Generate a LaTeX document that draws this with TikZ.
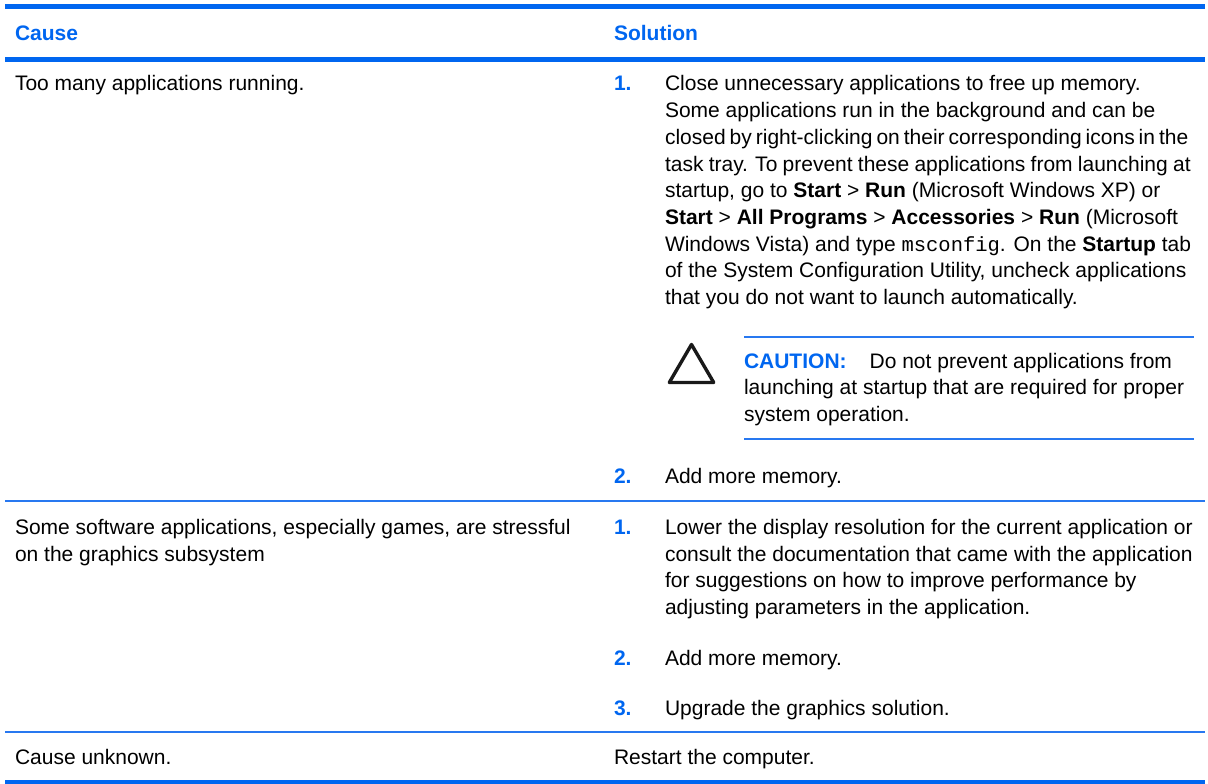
\documentclass[tikz,border=0pt]{standalone}
\usepackage{fontspec}
\setmainfont{Liberation Sans}
\setmonofont{Liberation Mono}
\definecolor{hpblue}{RGB}{0,102,240}
\definecolor{hpthin}{RGB}{40,120,240}
\begin{document}
\begin{tikzpicture}[x=1pt,y=-1pt,
  txt/.style={anchor=base west, inner sep=0pt, outer sep=0pt, font=\fontsize{21}{26.7}\selectfont, text=black},
  num/.style={txt, font=\fontsize{21}{26.7}\selectfont\bfseries, text=hpblue},
  head/.style={txt, font=\fontsize{21}{26.7}\selectfont\bfseries, text=hpblue},
  thickrule/.style={draw=hpblue, line width=4.5pt},
  thinrule/.style={draw=hpthin, line width=1.8pt},
  cautrule/.style={draw=hpthin, line width=1.8pt}]
\useasboundingbox (0,0) rectangle (1208,784);
% rules
\coordinate (tl) at (5,6.5);   \coordinate (tr) at (1205,6.5);
\coordinate (hl) at (5,59.7);  \coordinate (hr) at (1205,59.7);
\coordinate (s1l) at (5,501);  \coordinate (s1r) at (1205,501);
\coordinate (s2l) at (5,731.7);\coordinate (s2r) at (1205,731.7);
\coordinate (bl) at (5,782.2); \coordinate (br) at (1205,782.2);
\draw[thickrule] (tl) -- (tr);
\draw[thickrule] (hl) -- (hr);
\draw[thinrule] (s1l) -- (s1r);
\draw[thinrule] (s2l) -- (s2r);
\draw[thickrule] (bl) -- (br);
% header
\node[head] (hcause) at (15,41) {Cause};
\node[head] (hsol) at (614,41) {Solution};
% row 1
\node[txt] (c1) at (15,91) {Too many applications running.};
\node[num] (n11) at (614,91) {1.};
\node[txt] (r1a) at (665,91) {Close unnecessary applications to free up memory.};
\node[txt] (r1b) at (665,117.7) {Some applications run in the background and can be};
\node[txt] (r1c) at (665,144.4) {\spaceskip=0.19em closed by right-clicking on their corresponding icons in the};
\node[txt] (r1d) at (665,171.1) {\spaceskip=0.25em task tray. To prevent these applications from launching at};
\node[txt] (r1e) at (665,197.8) {startup, go to \textbf{Start} > \textbf{Run} (Microsoft Windows XP) or};
\node[txt] (r1f) at (665,224.5) {\textbf{Start} > \textbf{All Programs} > \textbf{Accessories} > \textbf{Run} (Microsoft};
\node[txt] (r1g) at (665,251.2) {Windows Vista) and type {\fontsize{20.5}{26.7}\selectfont\texttt{msconfig}}. On the \textbf{Startup} tab};
\node[txt] (r1h) at (665,277.9) {of the System Configuration Utility, uncheck applications};
\node[txt] (r1i) at (665,304.6) {that you do not want to launch automatically.};
% caution
\coordinate (cl1) at (744,336.7); \coordinate (cr1) at (1194,336.7);
\coordinate (cl2) at (744,439.0); \coordinate (cr2) at (1194,439.0);
\draw[cautrule] (cl1) -- (cr1);
\draw[cautrule] (cl2) -- (cr2);
\coordinate (ta) at (691.5,344.5);
\coordinate (tb) at (669.3,382.5);
\coordinate (tc) at (713.7,382.5);
\draw[line width=3.4pt, line join=round, draw=black!90] (ta) -- (tb) -- (tc) -- cycle;
\node[txt] (ca) at (744,368) {\textbf{\color{hpblue}CAUTION:}\hspace{23pt}Do not prevent applications from};
\node[txt] (cb) at (744,394.7) {launching at startup that are required for proper};
\node[txt] (cc) at (744,421.4) {system operation.};
\node[num] (n12) at (614,483) {2.};
\node[txt] (r1j) at (665,483) {Add more memory.};
% row 2
\node[txt] (c2a) at (15,534.5) {Some software applications, especially games, are stressful};
\node[txt] (c2b) at (15,561.2) {on the graphics subsystem};
\node[num] (n21) at (614,534.5) {1.};
\node[txt] (r2a) at (665,534.5) {Lower the display resolution for the current application or};
\node[txt] (r2b) at (665,561.2) {consult the documentation that came with the application};
\node[txt] (r2c) at (665,587.9) {for suggestions on how to improve performance by};
\node[txt] (r2d) at (665,614.6) {adjusting parameters in the application.};
\node[num] (n22) at (614,665) {2.};
\node[txt] (r2e) at (665,665) {Add more memory.};
\node[num] (n23) at (614,715) {3.};
\node[txt] (r2f) at (665,715) {Upgrade the graphics solution.};
% row 3
\node[txt] (c3) at (15,764) {Cause unknown.};
\node[txt] (r3) at (614,764) {Restart the computer.};
\end{tikzpicture}
\end{document}
